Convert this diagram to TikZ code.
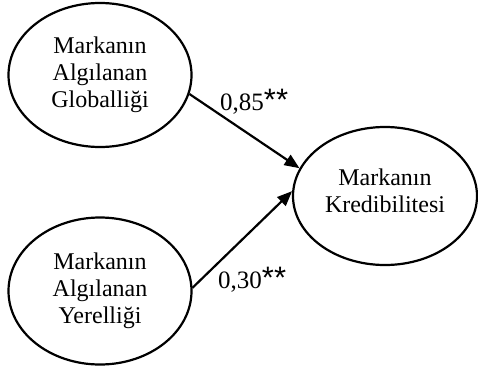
\documentclass[tikz,border=0pt]{standalone}
\usepackage{fontspec}
\setmainfont{Liberation Serif}
\newfontfamily\astfont{Liberation Sans}
\usetikzlibrary{shapes.geometric,arrows.meta}
\tikzset{
  oval/.style={draw, ellipse, line width=2.2pt, inner sep=0pt, align=center,
    font=\fontsize{24}{27}\selectfont},
  plain/.style={inner sep=0pt, align=center, font=\fontsize{24}{27}\selectfont},
  link/.style={line width=2.2pt, -{Triangle[length=15pt,width=12pt]}},
  coef/.style={font=\fontsize{25}{27}\selectfont, inner sep=0pt}
}
\newcommand{\asts}{{\fontsize{31}{27}\astfont**}}
\begin{document}
\begin{tikzpicture}
\useasboundingbox (0,0) rectangle (478pt,-372pt);
\node[oval, minimum width=183pt, minimum height=144pt] (g) at (100pt,-75pt) {Markanın\\Algılanan\\Globalliği};
\node[oval, minimum width=183pt, minimum height=147pt] (y) at (100pt,-291pt) {Markanın\\Algılanan\\Yerelliği};
\node[oval, minimum width=184pt, minimum height=138pt] (k) at (385pt,-196pt) {};
\node[plain] (kt) at ([yshift=5pt]k.center) {Markanın\\Kredibilitesi};
\draw[link] (g.-12) -- (k.162);
\draw[link] (y.2) -- (k.177);
\node[coef, anchor=base west] (c1) at (220pt,-110pt) {0,85\asts};
\node[coef, anchor=base west] (c2) at (218pt,-288pt) {0,30\asts};
\end{tikzpicture}
\end{document}
